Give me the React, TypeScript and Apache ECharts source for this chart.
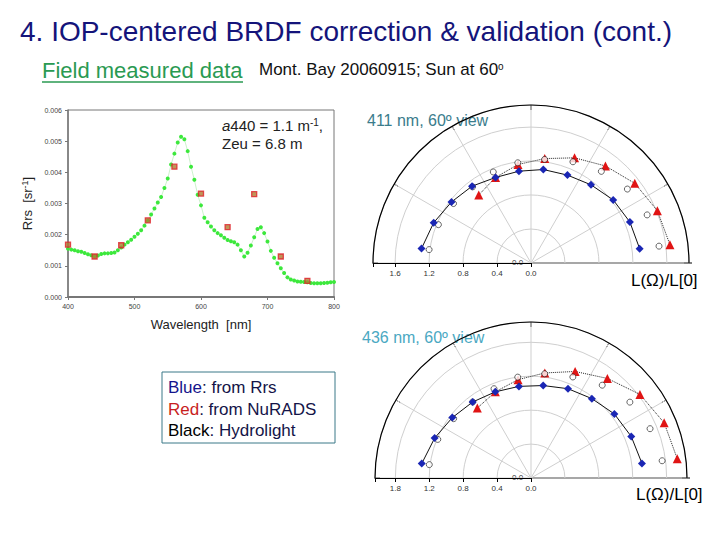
import React, { useEffect, useRef } from "react";
import * as echarts from "echarts";

const FONT = "'Liberation Sans', Arial, sans-serif";

// Left panel: field measured Rrs spectrum
const wavelengths: number[] = [
  400, 405, 410, 415, 420, 425, 430, 435, 440, 445, 450, 455, 460, 465, 470, 475, 480, 485, 490, 495,
  500, 505, 510, 515, 520, 525, 530, 535, 540, 545, 550, 555, 560, 565, 570, 575, 580, 585, 590, 595,
  600, 605, 610, 615, 620, 625, 630, 635, 640, 645, 650, 655, 660, 665, 670, 675, 680, 685, 690, 695,
  700, 705, 710, 715, 720, 725, 730, 735, 740, 745, 750, 755, 760, 765, 770, 775, 780, 785, 790, 795, 800,
];
const rrsMeasured: number[] = [
  0.00155, 0.00152, 0.0015, 0.00147, 0.00145, 0.00141, 0.00137, 0.00134, 0.00131, 0.00133,
  0.00138, 0.0014, 0.0014, 0.00141, 0.00143, 0.0015, 0.00159, 0.00168, 0.00176, 0.00184,
  0.00193, 0.00203, 0.00214, 0.00229, 0.00245, 0.00265, 0.00284, 0.00303, 0.00321, 0.0035,
  0.0038, 0.00425, 0.0046, 0.00496, 0.00514, 0.00506, 0.00468, 0.00418, 0.00376, 0.00328,
  0.00294, 0.00254, 0.0024, 0.00226, 0.00214, 0.00205, 0.00198, 0.0019, 0.00183, 0.00179,
  0.00176, 0.00168, 0.0015, 0.0013, 0.00142, 0.00165, 0.00192, 0.00218, 0.00224, 0.00205,
  0.00178, 0.00148, 0.00126, 0.00108, 0.00092, 0.00077, 0.00063, 0.00056, 0.00053, 0.0005,
  0.00049, 0.00048, 0.00047, 0.00045, 0.00044, 0.00044, 0.00044, 0.00045, 0.00046, 0.00047, 0.00048,
];
const bandWavelengths: number[] = [400, 440, 480, 520, 560, 600, 640, 680, 720, 760];
const rrsBands: number[] = [0.00168, 0.0013, 0.00166, 0.00246, 0.00418, 0.00332, 0.00224, 0.0033, 0.0013, 0.00052];

// Polar panels: relative azimuth (deg, from left) and L(Ω)/L[0]
const azimuths: number[] = [7.5, 22.5, 37.5, 52.5, 67.5, 82.5, 97.5, 112.5, 127.5, 142.5, 157.5, 172.5];
const redAzimuths: number[] = [52.5, 67.5, 82.5, 97.5, 112.5, 127.5, 142.5, 157.5, 172.5];

const blue411: number[] = [1.3, 1.24, 1.18, 1.14, 1.09, 1.09, 1.11, 1.12, 1.16, 1.22, 1.26, 1.29];
const black411: number[] = [1.21, 1.18, 1.15, 1.13, 1.16, 1.19, 1.23, 1.29, 1.36, 1.43, 1.48, 1.52];
const red411: number[] = [1.01, 1.09, 1.17, 1.24, 1.34, 1.44, 1.54, 1.61, 1.65];

const blue436: number[] = [1.3, 1.23, 1.17, 1.13, 1.1, 1.09, 1.1, 1.14, 1.18, 1.24, 1.28, 1.32];
const black436: number[] = [1.21, 1.19, 1.15, 1.13, 1.14, 1.2, 1.24, 1.29, 1.38, 1.47, 1.52, 1.56];
const red436: number[] = [1.04, 1.1, 1.17, 1.25, 1.36, 1.48, 1.62, 1.7, 1.74];

const radiusLabels411: string[] = ["0.0", "0.4", "0.8", "1.2", "1.6"];
const radiusLabels436: string[] = ["0.0", "0.4", "0.8", "1.2", "1.8"];

const pairs = (xs: number[], ys: number[]) => xs.map((x, i) => [x, ys[i]]);
const polarPairs = (rs: number[], angles: number[]) => rs.map((r, i) => [r, angles[i]]);

function polarSet(idx: number, center: number[], radius: number, max: number, labels: string[]) {
  const angleAxis = {
    polarIndex: idx,
    type: "value",
    min: 0,
    max: 180,
    interval: 30,
    startAngle: 180,
    endAngle: 0,
    clockwise: true,
    axisLine: { show: true, lineStyle: { color: "#000", width: 1.2 } },
    axisTick: { show: true, inside: true, length: 5, lineStyle: { color: "#000" } },
    axisLabel: { show: false },
    splitLine: { show: true, lineStyle: { color: "#cfcfcf", width: 1 } },
  };
  const radiusAxis = {
    polarIndex: idx,
    type: "value",
    min: 0,
    max,
    interval: 0.4,
    axisLine: { show: true, lineStyle: { color: "#000", width: 1 } },
    axisTick: { show: true, length: 4, lineStyle: { color: "#000" } },
    axisLabel: {
      show: true,
      fontSize: 8,
      color: "#333",
      fontFamily: FONT,
      margin: 6,
      formatter: (v: number) => {
        const k = Math.round(v / 0.4);
        return Math.abs(v - k * 0.4) < 1e-6 && labels[k] !== undefined ? labels[k] : "";
      },
    },
    splitLine: { show: true, lineStyle: { color: "#cfcfcf", width: 1 } },
  };
  return { polar: { center, radius }, angleAxis, radiusAxis };
}

function polarSeries(idx: number, blue: number[], black: number[], red: number[]) {
  return [
    {
      type: "line",
      coordinateSystem: "polar",
      polarIndex: idx,
      data: polarPairs(red, redAzimuths),
      symbol: "triangle",
      symbolSize: 9,
      itemStyle: { color: "#e01414" },
      lineStyle: { color: "#222", width: 1, type: "dotted" },
      z: 3,
    },
    {
      type: "scatter",
      coordinateSystem: "polar",
      polarIndex: idx,
      data: polarPairs(black, azimuths),
      symbol: "circle",
      symbolSize: 6,
      itemStyle: { color: "#ffffff", borderColor: "#111", borderWidth: 0.8 },
      z: 4,
    },
    {
      type: "line",
      coordinateSystem: "polar",
      polarIndex: idx,
      data: polarPairs(blue, azimuths),
      symbol: "diamond",
      symbolSize: 8,
      itemStyle: { color: "#1a26b4" },
      lineStyle: { color: "#111", width: 1 },
      z: 5,
    },
  ];
}

export default function App() {
  const ref = useRef<HTMLDivElement>(null);
  useEffect(() => {
    if (!ref.current) return;
    const chart = echarts.init(ref.current, undefined, { renderer: "svg" });
    const p1 = polarSet(0, [531, 263], 158, 1.86, radiusLabels411);
    const p2 = polarSet(1, [531, 478], 156, 1.84, radiusLabels436);
    const option: any = {
      animation: false,
      backgroundColor: "#ffffff",
      textStyle: { fontFamily: FONT },
      grid: { left: 68, top: 110, width: 266, height: 187, show: true, borderColor: "#777", borderWidth: 1 },
      xAxis: {
        type: "value",
        min: 400,
        max: 800,
        interval: 100,
        name: "Wavelength  [nm]",
        nameLocation: "middle",
        nameGap: 21,
        nameTextStyle: { fontSize: 13, color: "#222", fontFamily: FONT },
        axisLine: { show: true, lineStyle: { color: "#777", width: 2 } },
        axisTick: { show: true, length: 3, lineStyle: { color: "#777" } },
        axisLabel: { fontSize: 7, color: "#444", margin: 6, fontFamily: FONT },
        splitLine: { show: false },
      },
      yAxis: {
        type: "value",
        min: 0,
        max: 0.006,
        interval: 0.001,
        name: "Rrs  [sr{sup|-1}]",
        nameLocation: "middle",
        nameGap: 33,
        nameRotate: 90,
        nameTextStyle: {
          fontSize: 13,
          color: "#222",
          fontFamily: FONT,
          rich: { sup: { fontSize: 9, verticalAlign: "top", color: "#222", padding: [0, 0, 6, 0] } },
        },
        axisLine: { show: true, lineStyle: { color: "#777", width: 1.5 } },
        axisTick: { show: true, length: 3, lineStyle: { color: "#777" } },
        axisLabel: { fontSize: 7, color: "#444", margin: 6, fontFamily: FONT, formatter: (v: number) => v.toFixed(3) },
        splitLine: { show: false },
      },
      polar: [p1.polar, p2.polar],
      angleAxis: [p1.angleAxis, p2.angleAxis],
      radiusAxis: [p1.radiusAxis, p2.radiusAxis],
      series: [
        {
          type: "line",
          data: pairs(wavelengths, rrsMeasured),
          symbol: "circle",
          symbolSize: 4,
          itemStyle: { color: "#3ce83c" },
          lineStyle: { color: "#a8eaa8", width: 0.6 },
          z: 2,
        },
        {
          type: "scatter",
          data: pairs(bandWavelengths, rrsBands),
          symbol: "rect",
          symbolSize: 5,
          itemStyle: { color: "#b07a30", borderColor: "#e0202a", borderWidth: 1.3 },
          z: 3,
        },
        ...polarSeries(0, blue411, black411, red411),
        ...polarSeries(1, blue436, black436, red436),
      ],
      graphic: [
        {
          type: "text",
          left: 20,
          top: 17,
          style: { text: "4. IOP-centered BRDF correction & validation (cont.)", fontSize: 28, fill: "#14147a", fontFamily: FONT },
        },
        {
          type: "text",
          left: 42,
          top: 59,
          style: { text: "Field measured data", fontSize: 22, fill: "#2a9a52", fontFamily: FONT },
        },
        { type: "line", shape: { x1: 42, y1: 82, x2: 243, y2: 82 }, style: { stroke: "#2a9a52", lineWidth: 1.3 } },
        {
          type: "text",
          left: 259,
          top: 61,
          style: {
            text: "Mont. Bay 20060915; Sun at 60{sup|o}",
            fontSize: 17,
            fill: "#111",
            fontFamily: FONT,
            rich: { sup: { fontSize: 10, verticalAlign: "top", padding: [0, 0, 7, 0], fontFamily: FONT } },
          },
        },
        {
          type: "text",
          left: 222,
          top: 117,
          style: {
            text: "{it|a}440 = 1.1 m{sup|-1},",
            fontSize: 15,
            fill: "#222",
            fontFamily: FONT,
            rich: {
              it: { fontStyle: "italic", fontSize: 15, fontFamily: FONT },
              sup: { fontSize: 10, verticalAlign: "top", padding: [0, 0, 7, 0], fontFamily: FONT },
            },
          },
        },
        { type: "text", left: 222, top: 136, style: { text: "Zeu = 6.8 m", fontSize: 15, fill: "#222", fontFamily: FONT } },
        { type: "text", left: 367, top: 112, style: { text: "411 nm, 60º view", fontSize: 16, fill: "#3a7c8c", fontFamily: FONT } },
        { type: "text", left: 362, top: 329, style: { text: "436 nm, 60º view", fontSize: 16, fill: "#4aa8c2", fontFamily: FONT } },
        { type: "line", shape: { x1: 531, y1: 263, x2: 692, y2: 263 }, style: { stroke: "#000", lineWidth: 1 } },
        { type: "line", shape: { x1: 531, y1: 478, x2: 690, y2: 478 }, style: { stroke: "#000", lineWidth: 1 } },
        { type: "text", left: 512, top: 258, style: { text: "0.0", fontSize: 8, fill: "#333", fontFamily: FONT } },
        { type: "text", left: 512, top: 473, style: { text: "0.0", fontSize: 8, fill: "#333", fontFamily: FONT } },
        { type: "text", left: 631, top: 272, style: { text: "L(Ω)/L[0]", fontSize: 17, fill: "#000", fontFamily: FONT } },
        { type: "text", left: 636, top: 486, style: { text: "L(Ω)/L[0]", fontSize: 17, fill: "#000", fontFamily: FONT } },
        {
          type: "rect",
          shape: { x: 162, y: 372, width: 173, height: 71 },
          style: { fill: "#fff", stroke: "#3a7888", lineWidth: 1 },
        },
        {
          type: "text",
          left: 168,
          top: 377,
          style: {
            text: "{b|Blue}: from Rrs\n{r|Red}: from NuRADS\n{k|Black}: Hydrolight",
            fontSize: 17,
            lineHeight: 21.5,
            fill: "#141448",
            fontFamily: FONT,
            rich: {
              b: { fill: "#14148c", fontSize: 17, lineHeight: 21.5, fontFamily: FONT },
              r: { fill: "#c81e1e", fontSize: 17, lineHeight: 21.5, fontFamily: FONT },
              k: { fill: "#000", fontSize: 17, lineHeight: 21.5, fontFamily: FONT },
            },
          },
        },
      ],
    };
    chart.setOption(option);
    return () => chart.dispose();
  }, []);
  return <div ref={ref} style={{ position: "fixed", left: 0, top: 0, width: 720, height: 540 }} />;
}
